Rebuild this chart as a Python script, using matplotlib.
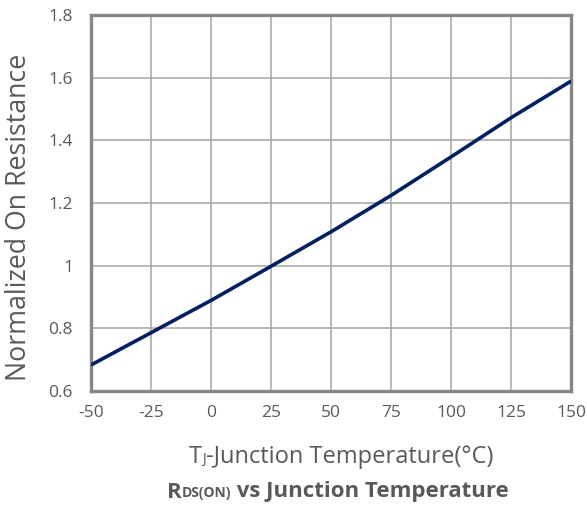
import matplotlib
matplotlib.use("Agg")
import matplotlib.pyplot as plt
from matplotlib.offsetbox import TextArea, HPacker, AnchoredOffsetbox

temps = [-50, -25, 0, 25, 50, 75, 100, 125, 150]
rdson = [0.683, 0.786, 0.889, 0.998, 1.108, 1.224, 1.347, 1.472, 1.589]
xticks = [-50, -25, 0, 25, 50, 75, 100, 125, 150]
yticks = [0.6, 0.8, 1.0, 1.2, 1.4, 1.6, 1.8]
yticklabels = ["0.6", "0.8", "1", "1.2", "1.4", "1.6", "1.8"]

FONT = ["Open Sans", "DejaVu Sans"]
GRAY = "#595959"
plt.rcParams["font.family"] = FONT

fig = plt.figure(figsize=(5.87, 5.09), dpi=100)
W, H = 587, 509
ax = fig.add_axes([91 / W, 1 - 391 / H, (571 - 91) / W, (391 - 15) / H])
ax.plot(temps, rdson, color="#002060", lw=2.6, solid_capstyle="butt", zorder=3)
ax.set_xlim(-50, 150)
ax.set_ylim(0.6, 1.8)
ax.set_xticks(xticks)
ax.set_xticklabels([str(t) for t in xticks])
ax.set_yticks(yticks)
ax.set_yticklabels(yticklabels)
ax.grid(True, color="#a6a6a6", lw=1.1)
ax.set_axisbelow(True)
for s in ax.spines.values():
    s.set_color("#878787")
    s.set_linewidth(2.4)
ax.tick_params(length=0, labelsize=12.5, labelcolor=GRAY)
ax.tick_params(axis="x", pad=10)
ax.tick_params(axis="y", pad=13)

fig.text(19 / W, 1 - 217 / H, "Normalized On Resistance", rotation=90,
         ha="center", va="center", fontsize=19.3, color=GRAY)

def packed(parts, y_px, x_px):
    areas = []
    for txt, size, weight in parts:
        ta = TextArea(txt, textprops=dict(fontsize=size, color=GRAY, fontweight=weight, family=FONT))
        areas.append(ta)
    box = HPacker(children=areas, align="baseline", pad=0, sep=0)
    ab = AnchoredOffsetbox(loc="center", child=box, frameon=False,
                           bbox_to_anchor=(x_px / W, 1 - y_px / H),
                           bbox_transform=fig.transFigure, borderpad=0, pad=0)
    fig.add_artist(ab)

packed([("T", 17, "normal"), ("J", 10, "normal"),
        ("-Junction Temperature(°C)", 17, "normal")], 457, 341)
packed([("R", 16, "bold"), ("DS(ON)", 10, "bold"),
        (" vs Junction Temperature", 16, "bold")], 492, 338)

fig.savefig("out.png", dpi=100)
